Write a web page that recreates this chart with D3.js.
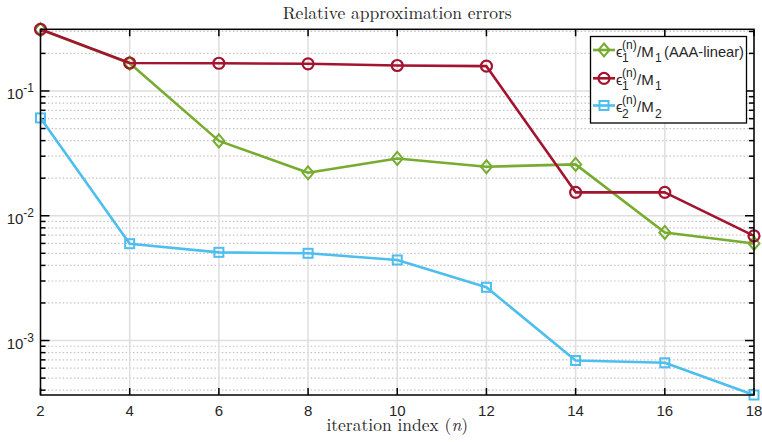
<!DOCTYPE html>
<html>
<head>
<meta charset="utf-8">
<script src="https://cdn.jsdelivr.net/npm/d3@7"></script>
<style>
  body { margin: 0; background: #fff; }
  svg { display: block; }
  .tick-label { font-family: "Liberation Sans", Arial, sans-serif; font-size: 15px; fill: #262626; }
  .serif { font-family: "Latin Modern Roman", "DejaVu Serif", "Liberation Serif", serif; fill: #262626; }
  .lg-text { font-family: "Liberation Sans", Arial, sans-serif; fill: #262626; }
</style>
</head>
<body>
<script>
// iteration index
var iterations = [2, 4, 6, 8, 10, 12, 14, 16, 18];

// relative errors
var errAAA = [0.31, 0.167, 0.0398, 0.0221, 0.0288, 0.0247, 0.0258, 0.00735, 0.0060];
var errM1 = [0.312, 0.1675, 0.1667, 0.165, 0.160, 0.158, 0.0154, 0.0154, 0.0069];
var errM2 = [0.0608, 0.00597, 0.00509, 0.0050, 0.00442, 0.00267, 0.000692, 0.000663, 0.000366];

var xTicks = [2, 4, 6, 8, 10, 12, 14, 16, 18];
var yMajor = [1e-3, 1e-2, 1e-1];

var width = 762, height = 442;
var pLeft = 40.5, pRight = 754, pTop = 29.3, pBottom = 395;

var series = [
  { name: 'AAA', values: errAAA, color: '#77AC30', marker: 'diamond', sub: '1', den: 'M', denSub: '1', tail: '(AAA-linear)' },
  { name: 'M1', values: errM1, color: '#A2142F', marker: 'circle', sub: '1', den: 'M', denSub: '1', tail: '' },
  { name: 'M2', values: errM2, color: '#4DBEEE', marker: 'square', sub: '2', den: 'M', denSub: '2', tail: '' }
];

var all = errAAA.concat(errM1, errM2);

var x = d3.scaleLinear().domain([2, 18]).range([pLeft, pRight]);
var y = d3.scaleLog().domain([d3.min(all), d3.max(all)]).range([pBottom, pTop]);

var svg = d3.select('body').append('svg')
  .attr('width', width)
  .attr('height', height);

// minor grid values
var yMinor = [];
for (var e = -4; e <= 0; e++) {
  for (var k = 2; k <= 9; k++) {
    var v = k * Math.pow(10, e);
    if (v >= y.domain()[0] && v <= y.domain()[1]) yMinor.push(v);
  }
}

var grid = svg.append('g');
grid.selectAll('.minor').data(yMinor).enter().append('line')
  .attr('x1', pLeft).attr('x2', pRight)
  .attr('y1', function(d) { return y(d); })
  .attr('y2', function(d) { return y(d); })
  .attr('stroke', '#c4c4c4')
  .attr('stroke-width', 1.2)
  .attr('stroke-dasharray', '1.5,2.2');

grid.selectAll('.ymaj').data(yMajor).enter().append('line')
  .attr('x1', pLeft).attr('x2', pRight)
  .attr('y1', function(d) { return y(d); })
  .attr('y2', function(d) { return y(d); })
  .attr('stroke', '#dedede')
  .attr('stroke-width', 1.5);

grid.selectAll('.xmaj').data(xTicks).enter().append('line')
  .attr('x1', function(d) { return x(d); })
  .attr('x2', function(d) { return x(d); })
  .attr('y1', pTop).attr('y2', pBottom)
  .attr('stroke', '#dedede')
  .attr('stroke-width', 1.5);

// ticks, inward on all four sides
var ticks = svg.append('g').attr('stroke', '#000').attr('stroke-width', 1.5);
xTicks.forEach(function(d) {
  ticks.append('line').attr('x1', x(d)).attr('x2', x(d)).attr('y1', pBottom).attr('y2', pBottom - 7);
  ticks.append('line').attr('x1', x(d)).attr('x2', x(d)).attr('y1', pTop).attr('y2', pTop + 7);
});
yMajor.forEach(function(d) {
  ticks.append('line').attr('x1', pLeft).attr('x2', pLeft + 9).attr('y1', y(d)).attr('y2', y(d));
  ticks.append('line').attr('x1', pRight).attr('x2', pRight - 9).attr('y1', y(d)).attr('y2', y(d));
});
yMinor.forEach(function(d) {
  ticks.append('line').attr('x1', pLeft).attr('x2', pLeft + 5).attr('y1', y(d)).attr('y2', y(d));
  ticks.append('line').attr('x1', pRight).attr('x2', pRight - 5).attr('y1', y(d)).attr('y2', y(d));
});

// lines and markers
function drawMarker(g, type, cx, cy, color) {
  if (type === 'circle') {
    g.append('circle').attr('cx', cx).attr('cy', cy).attr('r', 5.5)
      .attr('fill', 'none').attr('stroke', color).attr('stroke-width', 2.2);
  } else if (type === 'square') {
    g.append('rect').attr('x', cx - 4.5).attr('y', cy - 4.5).attr('width', 9).attr('height', 9)
      .attr('fill', 'none').attr('stroke', color).attr('stroke-width', 2);
  } else {
    g.append('path').attr('d', 'M' + cx + ',' + (cy - 6.5) + 'L' + (cx + 5.5) + ',' + cy +
      'L' + cx + ',' + (cy + 6.5) + 'L' + (cx - 5.5) + ',' + cy + 'Z')
      .attr('fill', 'none').attr('stroke', color).attr('stroke-width', 2);
  }
}

var line = d3.line()
  .x(function(d) { return x(d[0]); })
  .y(function(d) { return y(d[1]); });

series.forEach(function(s) {
  var pts = iterations.map(function(n, i) { return [n, s.values[i]]; });
  var g = svg.append('g');
  g.append('path').datum(pts)
    .attr('d', line)
    .attr('fill', 'none')
    .attr('stroke', s.color)
    .attr('stroke-width', 2.6)
    .attr('stroke-linejoin', 'round');
  pts.forEach(function(p) {
    drawMarker(g, s.marker, x(p[0]), y(p[1]), s.color);
  });
});

// axes box
svg.append('rect')
  .attr('x', pLeft).attr('y', pTop)
  .attr('width', pRight - pLeft).attr('height', pBottom - pTop)
  .attr('fill', 'none').attr('stroke', '#000').attr('stroke-width', 1.5);

// tick labels
svg.selectAll('.xl').data(xTicks).enter().append('text')
  .attr('class', 'tick-label')
  .attr('x', function(d) { return x(d); })
  .attr('y', 416)
  .attr('text-anchor', 'middle')
  .text(function(d) { return d; });

yMajor.forEach(function(d) {
  var t = svg.append('text').attr('class', 'tick-label')
    .attr('x', 34).attr('y', y(d) + 8).attr('text-anchor', 'end');
  t.append('tspan').text('10');
  t.append('tspan').attr('dy', -7).attr('font-size', '12px').text(Math.round(Math.log10(d)));
});

// title and x label
svg.append('text').attr('class', 'serif')
  .attr('x', (pLeft + pRight) / 2).attr('y', 19)
  .attr('text-anchor', 'middle').attr('font-size', '17.5px')
  .text('Relative approximation errors');

var xl = svg.append('text').attr('class', 'serif')
  .attr('x', (pLeft + pRight) / 2).attr('y', 431)
  .attr('text-anchor', 'middle').attr('font-size', '17.5px');
xl.append('tspan').text('iteration index (');
xl.append('tspan').attr('font-style', 'italic').text('n');
xl.append('tspan').text(')');

// legend
var lg = svg.append('g');
lg.append('rect')
  .attr('x', 590.5).attr('y', 36.5).attr('width', 156).attr('height', 86.5)
  .attr('fill', '#fff').attr('stroke', '#000').attr('stroke-width', 1.3);

var legendY = [50, 78.3, 105.5];
series.forEach(function(s, i) {
  var ly = legendY[i];
  lg.append('line').attr('x1', 593).attr('x2', 615).attr('y1', ly).attr('y2', ly)
    .attr('stroke', s.color).attr('stroke-width', 2.6);
  drawMarker(lg, s.marker, 604, ly, s.color);

  lg.append('text').attr('class', 'lg-text').attr('x', 616).attr('y', ly + 6.5)
    .attr('font-size', '15px').text('\u03f5');
  lg.append('text').attr('class', 'lg-text').attr('x', 622).attr('y', ly + 12)
    .attr('font-size', '12px').text(s.sub);
  lg.append('text').attr('class', 'lg-text').attr('x', 622).attr('y', ly - 1.5)
    .attr('font-size', '12px').text('(n)');
  lg.append('text').attr('class', 'lg-text').attr('x', 637).attr('y', ly + 6.5)
    .attr('font-size', '15px').text('/' + s.den);
  lg.append('text').attr('class', 'lg-text').attr('x', 655).attr('y', ly + 12)
    .attr('font-size', '12px').text(s.denSub);
  if (s.tail) {
    lg.append('text').attr('class', 'lg-text').attr('x', 664).attr('y', ly + 6.5)
      .attr('font-size', '15px').attr('textLength', 80).attr('lengthAdjust', 'spacingAndGlyphs')
      .text(s.tail);
  }
});
</script>
</body>
</html>
